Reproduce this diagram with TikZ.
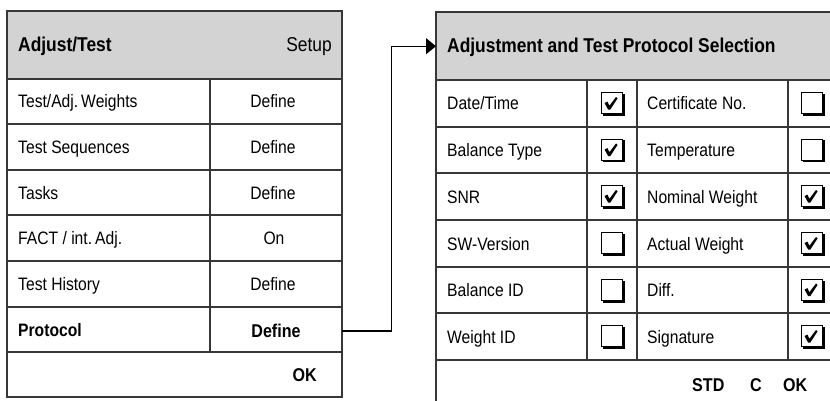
\documentclass[tikz,border=0pt]{standalone}
\usepackage{fontspec}
\setmainfont{Liberation Sans}[FakeStretch=0.87]
\usepackage{xcolor}
\usetikzlibrary{arrows.meta}
\definecolor{headgray}{RGB}{211,211,212}
\definecolor{linegray}{RGB}{55,55,55}

\tikzset{
	tickbox/.pic={
		\fill[black] (-9.5,-9.5) rectangle (12.5,12.5);
		\filldraw[fill=white,draw=black,line width=0.8pt] (-11,-11) rectangle (10,10);
	},
	tickmark/.pic={
		\fill[black] (-6.5,-0.5) -- (-3.5,-1.8) -- (-1.6,2.2) -- (5,-6.5) -- (6.5,-5) -- (-0.8,6.2) -- (-2.8,6.2) -- cycle;
	}
}

\begin{document}
\begin{tikzpicture}[x=1pt,y=-1pt,
	rule/.style={draw=linegray,line width=1.1pt},
	txt/.style={inner sep=0pt,font=\fontsize{18}{20}\selectfont},
	btxt/.style={inner sep=0pt,font=\fontsize{18.5}{20}\selectfont\bfseries},
	hdr/.style={inner sep=0pt,font=\fontsize{20}{22}\selectfont}]

	\useasboundingbox (0,0) rectangle (830,401);

	% left panel: Adjust/Test

	\node[fill=headgray,minimum width=335pt,minimum height=68pt,inner sep=0pt,anchor=north west] (adjhead) at (7,11) {};
	\node[hdr,anchor=base west,font=\fontsize{20}{22}\selectfont\bfseries] (adjtitle) at (18,52) {Adjust/Test};
	\node[hdr,anchor=base east] (setup) at (332,52) {Setup};

	\draw[rule] (7,11) rectangle (342,397);
	\foreach \y in {79,124,170,215,261,307,352}
		\draw[rule] (7,\y) -- (342,\y);
	\draw[rule] (210,79) -- (210,352);

	\node[txt,anchor=base west] (weights) at (18,108) {Test/Adj.\,Weights};
	\node[txt,anchor=base] (weightsdef) at (273,108) {Define};
	\node[txt,anchor=base west] (sequences) at (18,153.5) {Test Sequences};
	\node[txt,anchor=base] (sequencesdef) at (273,153.5) {Define};
	\node[txt,anchor=base west] (tasks) at (18,199) {Tasks};
	\node[txt,anchor=base] (tasksdef) at (273,199) {Define};
	\node[txt,anchor=base west] (fact) at (18,244.5) {FACT / int.\,Adj.};
	\node[txt,anchor=base] (facton) at (274,244.5) {On};
	\node[txt,anchor=base west] (history) at (18,290.5) {Test History};
	\node[txt,anchor=base] (historydef) at (273,290.5) {Define};
	\node[btxt,anchor=base west,font=\fontsize{18}{20}\selectfont\bfseries] (protocol) at (18,336) {Protocol};
	\node[btxt,minimum width=132pt,minimum height=45pt] (protocoldef) at (276,331) {Define};
	\node[btxt,anchor=base east] (adjok) at (317,381.5) {OK};

	% right panel: protocol selection

	\node[fill=headgray,minimum width=400pt,minimum height=68pt,inner sep=0pt,anchor=north west] (selhead) at (436,12) {};
	\node[hdr,anchor=base west,font=\fontsize{20}{22}\selectfont\bfseries] (seltitle) at (447,53) {Adjustment and Test Protocol Selection};

	\draw[rule] (436,410) -- (436,12) -- (840,12);
	\foreach \y in {80,127,173,220,267,313,360}
		\draw[rule] (436,\y) -- (840,\y);
	\foreach \x in {587,637,788}
		\draw[rule] (\x,80) -- (\x,360);

	\node[txt,anchor=base west] (datetime) at (447,110) {Date/Time};
	\node[txt,anchor=base west] (baltype) at (447,156.5) {Balance Type};
	\node[txt,anchor=base west] (snr) at (447,203) {SNR};
	\node[txt,anchor=base west] (swversion) at (447,250) {SW-Version};
	\node[txt,anchor=base west] (balid) at (447,296.5) {Balance ID};
	\node[txt,anchor=base west] (weightid) at (447,343) {Weight ID};

	\node[txt,anchor=base west] (certno) at (647,110) {Certificate No.};
	\node[txt,anchor=base west] (temp) at (647,156.5) {Temperature};
	\node[txt,anchor=base west] (nominal) at (647,203) {Nominal Weight};
	\node[txt,anchor=base west] (actual) at (647,250) {Actual Weight};
	\node[txt,anchor=base west] (diff) at (647,296.5) {Diff.};
	\node[txt,anchor=base west] (signature) at (647,343) {Signature};

	% check boxes

	\foreach \y in {103.5,150,196.5,243.5,290,336.5}
	{
		\pic at (612,\y) {tickbox};
		\pic at (812,\y) {tickbox};
	}
	\foreach \y in {103.5,150,196.5}
		\pic at (611,\y) {tickmark};
	\foreach \y in {196.5,243.5,290,336.5}
		\pic at (811,\y) {tickmark};

	\node[btxt,anchor=base west] (std) at (692,391) {STD};
	\node[btxt,anchor=base west] (clear) at (750,391) {C};
	\node[btxt,anchor=base west] (selok) at (783,391) {OK};

	% connector

	\draw[line width=1.1pt,color=black,-{Triangle[length=10pt,width=16pt]}] (protocoldef.east) -- ++(49,0) |- (selhead.west);

\end{tikzpicture}
\end{document}
